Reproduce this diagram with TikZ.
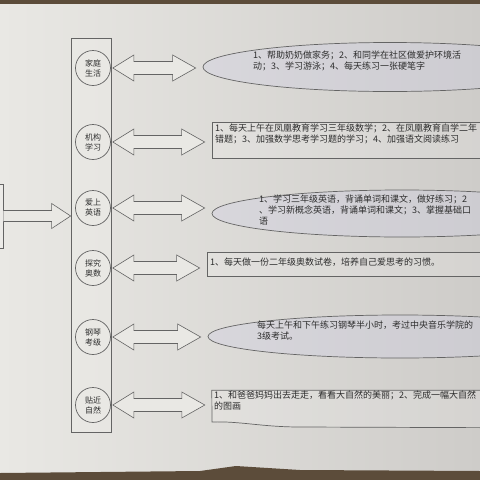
\documentclass[tikz,border=0pt]{standalone}
\usepackage{fontspec}
\setmainfont{Noto Sans CJK SC}
\usetikzlibrary{calc,shapes.geometric}
\definecolor{paperL}{RGB}{233,232,228}
\definecolor{paperR}{RGB}{206,204,201}
\definecolor{edge}{RGB}{92,76,58}
\definecolor{ink}{RGB}{45,45,45}
\definecolor{linec}{RGB}{100,100,100}
\definecolor{elltint}{RGB}{205,205,230}
\tikzset{
  frame/.style={draw=linec, line width=0.7pt, inner sep=0pt},
  ell/.style={frame, ellipse, fill=elltint, fill opacity=0.3, text opacity=1},
  boxr/.style={frame, rectangle, fill=white, fill opacity=0.15, text opacity=1},
  topic/.style={frame, circle, minimum size=35pt, fill=paperL, text=ink,
    align=center, font=\fontsize{8}{10}\selectfont},
  txt/.style={inner sep=0pt, align=left, text=ink, font=\fontsize{9}{11}\selectfont},
  arr/.style={draw=linec, line width=0.6pt, fill=paperL, line join=miter},
}
\newcommand\dblarrow[2]{%
  \draw[arr] let \p1=(#1.east), \p2=(#2.west) in
    (\x1+2pt,\y1) -- (\x1+23pt,\y1+13pt) -- (\x1+23pt,\y1+6.5pt)
    -- (\x2-30pt,\y1+6.5pt) -- (\x2-30pt,\y1+13pt) -- (\x2-7pt,\y1)
    -- (\x2-30pt,\y1-13pt) -- (\x2-30pt,\y1-6.5pt) -- (\x1+23pt,\y1-6.5pt)
    -- (\x1+23pt,\y1-13pt) -- cycle;}
\begin{document}
\begin{tikzpicture}[x=1pt,y=-1pt]
\useasboundingbox (0,0) rectangle (480,480);
% photographed paper
\shade[left color=paperL, right color=paperR] (0,0) rectangle (480,480);
\fill[edge] (0,0) rectangle (480,4);
\fill[edge] (0,480) -- (0,473) -- (200,471) -- (236,466) -- (300,470) -- (480,471) -- (480,480) -- cycle;

% main column and source box
\node[boxr, minimum width=40pt, minimum height=394pt] (main) at (91,235) {};
\node[boxr, minimum width=60pt, minimum height=64pt] (src) at (-27,216) {};
\draw[arr] let \p1=(src.east), \p2=(main.west) in
  (\x1,\y1+5.5pt) -- (\x2-19pt,\y1+5.5pt) -- (\x2-19pt,\y1+12.5pt) -- (\x2,\y1)
  -- (\x2-19pt,\y1-12.5pt) -- (\x2-19pt,\y1-5.5pt) -- (\x1,\y1-5.5pt);

% topics
\node[topic] (c1) at (93,68)  {家庭\\生活};
\node[topic] (c2) at (93,142) {机构\\学习};
\node[topic] (c3) at (93,208) {爱上\\英语};
\node[topic] (c4) at (93,268) {探究\\奥数};
\node[topic] (c5) at (93,337) {钢琴\\考级};
\node[topic] (c6) at (93,405) {贴近\\自然};

% detail shapes
\node[ell, minimum width=374pt, minimum height=49pt] (d1) at (390,67) {};
\node[boxr, minimum width=283pt, minimum height=36pt] (d2) at (353.5,140) {};
\node[ell, minimum width=380pt, minimum height=47pt] (d3) at (402,213.5) {};
\node[boxr, minimum width=288pt, minimum height=24pt] (d4) at (351,264) {};
\node[ell, minimum width=384pt, minimum height=43pt] (d5) at (400,336.5) {};
\node[inner sep=0pt, minimum width=283pt, minimum height=37pt] (d6) at (353.5,409) {};
\draw[frame, fill=white, fill opacity=0.15]
  (d6.north west) -- (d6.north east) -- (d6.south east) -- (300,427)
  .. controls (262,427) and (240,421) .. (212,422) -- cycle;

% connectors
\dblarrow{c1}{d1}
\dblarrow{c2}{d2}
\dblarrow{c3}{d3}
\dblarrow{c4}{d4}
\dblarrow{c5}{d5}
\dblarrow{c6}{d6}

% texts
\node[txt, anchor=west] (t1) at (253,60.5) {1、帮助奶奶做家务；2、和同学在社区做爱护环境活\\动；3、学习游泳；4、每天练习一张硬笔字};
\node[txt, anchor=west] (t2) at (215,134) {1、每天上午在凤凰教育学习三年级数学；2、在凤凰教育自学二年\\错题；3、加强数学思考学习题的学习；4、加强语文阅读练习};
\node[txt, anchor=west] (t3) at (259,210) {1、学习三年级英语，背诵单词和课文，做好练习；2\\、学习新概念英语，背诵单词和课文；3、掌握基础口\\语};
\node[txt, anchor=west] (t4) at (210,262) {1、每天做一份二年级奥数试卷，培养自己爱思考的习惯。};
\node[txt, anchor=west] (t5) at (257,331) {每天上午和下午练习钢琴半小时，考过中央音乐学院的\\3级考试。};
\node[txt, anchor=west] (t6) at (214,401) {1、和爸爸妈妈出去走走，看看大自然的美丽；2、完成一幅大自然\\的图画};
\end{tikzpicture}
\end{document}
